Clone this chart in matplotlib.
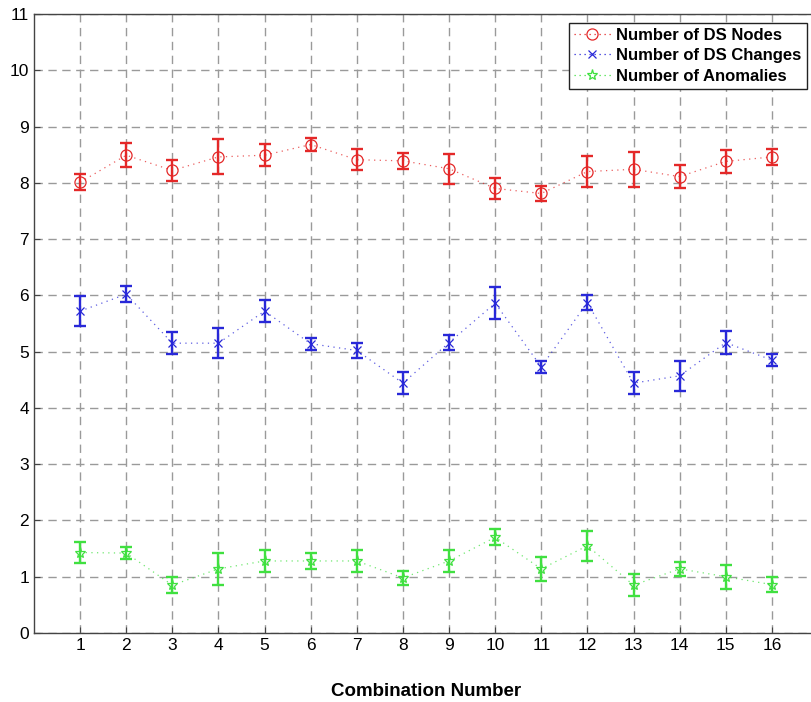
import matplotlib
matplotlib.use("Agg")
import matplotlib.pyplot as plt
import numpy as np

plt.rcParams['font.family'] = ['Liberation Sans', 'DejaVu Sans']

combos = list(range(1, 17))

ds_nodes = [8.01, 8.49, 8.22, 8.46, 8.49, 8.68, 8.41, 8.39,
            8.25, 7.90, 7.81, 8.20, 8.24, 8.11, 8.38, 8.46]
ds_nodes_err = [0.14, 0.21, 0.19, 0.31, 0.20, 0.11, 0.19, 0.14,
                0.27, 0.19, 0.13, 0.27, 0.31, 0.20, 0.21, 0.14]

ds_changes = [5.72, 6.02, 5.15, 5.15, 5.72, 5.14, 5.02, 4.44,
              5.16, 5.86, 4.73, 5.87, 4.44, 4.57, 5.16, 4.85]
ds_changes_err = [0.27, 0.14, 0.19, 0.27, 0.19, 0.11, 0.14, 0.19,
                  0.14, 0.28, 0.11, 0.13, 0.19, 0.27, 0.20, 0.11]

anomalies = [1.43, 1.42, 0.85, 1.14, 1.28, 1.28, 1.28, 0.98,
             1.28, 1.70, 1.14, 1.55, 0.85, 1.14, 1.00, 0.86]
anomalies_err = [0.19, 0.11, 0.14, 0.28, 0.19, 0.14, 0.19, 0.13,
                 0.19, 0.14, 0.21, 0.27, 0.19, 0.13, 0.21, 0.14]

labels = ['Number of DS Nodes', 'Number of DS Changes', 'Number of Anomalies']

red = '#e42828'
blue = '#2828d8'
green = '#40e040'

fig = plt.figure(figsize=(8.11, 7.02), dpi=100)
ax = fig.add_axes([0.0419, 0.0983, 0.9667, 0.8818])

series = [
    (ds_nodes, ds_nodes_err, red, 'o', 8, 'none'),
    (ds_changes, ds_changes_err, blue, 'x', 5.5, blue),
    (anomalies, anomalies_err, green, '*', 8, 'none'),
]
handles = []
for (vals, errs, col, mk, ms, mfc), lab in zip(series, labels):
    ax.errorbar(combos, vals, yerr=errs, fmt='none', ecolor=col,
                elinewidth=1.7, capsize=4.3, capthick=1.7, zorder=3)
    ax.plot(combos, vals, linestyle=(0, (1, 3.5)), linewidth=0.9, color=col,
            alpha=0.75, zorder=2.5)
    ax.plot(combos, vals, linestyle='none', marker=mk, markersize=ms,
            markerfacecolor=mfc, markeredgecolor=col, markeredgewidth=0.9,
            zorder=4)
    h, = ax.plot([], [], linestyle=(0, (1, 3)), linewidth=0.9, color=col,
                 marker=mk, markersize=ms, markerfacecolor=mfc,
                 markeredgecolor=col, markeredgewidth=0.9, label=lab)
    handles.append(h)

ax.set_xlim(0, 17)
ax.set_ylim(0, 11)
ax.set_xticks(combos)
ax.set_yticks(range(0, 12))
ax.tick_params(labelsize=12.5, direction='in', length=4, color='#444444')
ax.grid(True, linestyle=(0, (6, 4)), color='#9a9a9a', linewidth=1.0)
ax.set_axisbelow(True)
for sp in ax.spines.values():
    sp.set_color('#444444')
    sp.set_linewidth(1.0)

ax.set_xlabel('Combination Number', fontsize=13.5, fontweight='bold', labelpad=22)

leg = ax.legend(handles=handles, loc='upper right', bbox_to_anchor=(0.992, 0.994),
                prop={'weight': 'bold', 'size': 12}, frameon=True, fancybox=False,
                handlelength=2.2, handletextpad=0.35, borderpad=0.3, labelspacing=0.33,
                borderaxespad=0.3)
leg.get_frame().set_edgecolor('#222222')
leg.get_frame().set_linewidth(1.0)
leg.get_frame().set_alpha(1.0)

fig.savefig('out.png', dpi=100)
